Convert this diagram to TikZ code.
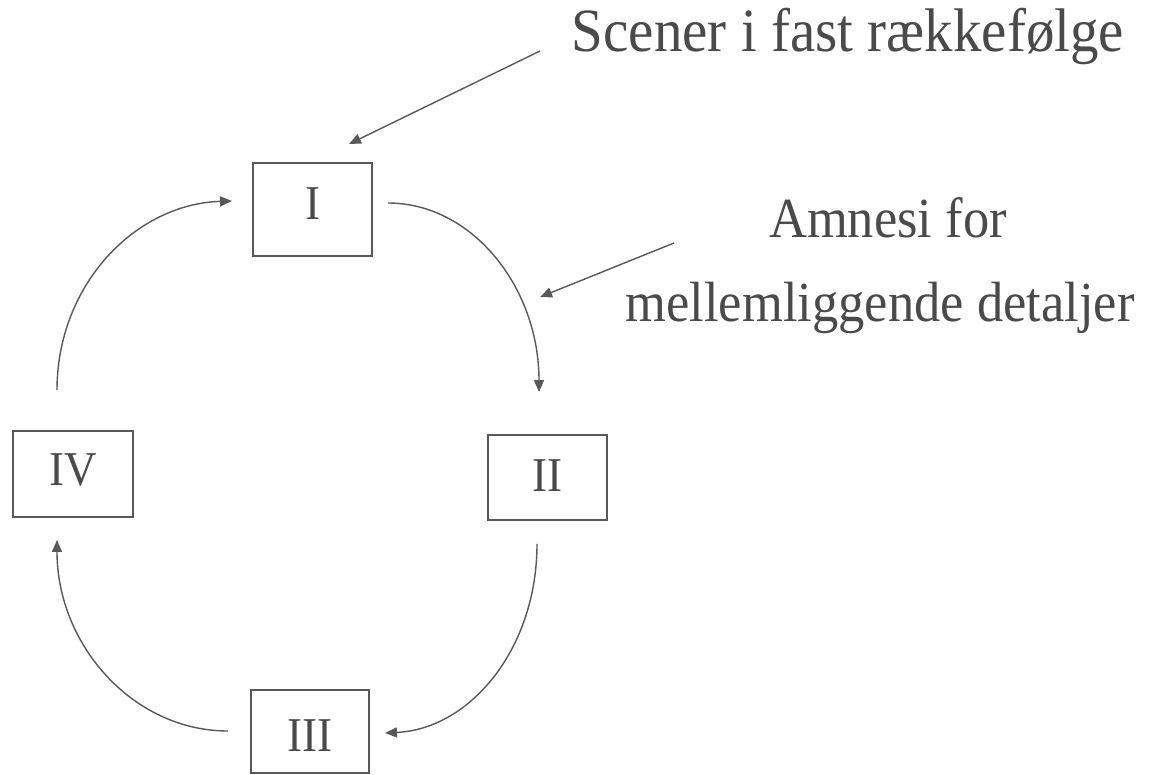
\documentclass[tikz,border=0pt]{standalone}
\usepackage{fontspec}
\setmainfont{Liberation Serif}
\usetikzlibrary{arrows.meta,calc}
\definecolor{ink}{HTML}{4A4A4A}
\definecolor{wire}{HTML}{585858}
% slightly tall serif lettering
\newcommand{\tall}[1]{\scalebox{1}[1.08]{#1}}
% numeral set a little off centre inside its box
\newcommand{\numeral}[2]{\raisebox{#1}[\height][\depth]{\tall{#2}}}
\tikzset{
  scene/.style={draw=wire, line width=1.9pt, rectangle, inner sep=0pt,
                text=ink, font=\fontsize{45}{45}\selectfont},
  flow/.style={draw=wire, line width=1.4pt,
               -{Triangle[length=12pt,width=10pt]}},
  caption/.style={text=ink, inner sep=0pt, anchor=base},
}
\begin{document}
\begin{tikzpicture}[x=1pt,y=-1pt]
\useasboundingbox (0,0) rectangle (1159,775);

% the four scenes
\node[scene, minimum width=119pt, minimum height=93pt] (I)   at (312.5,209.5) {\numeral{6pt}{I}};
\node[scene, minimum width=119pt, minimum height=85pt] (II)  at (547.5,477.5) {\numeral{2pt}{II}};
\node[scene, minimum width=118pt, minimum height=83pt] (III) at (310,731.5)   {\numeral{-4pt}{III}};
\node[scene, minimum width=120pt, minimum height=86pt] (IV)  at (73,474)      {\numeral{4pt}{IV}};

% captions
\node[caption, font=\fontsize{57}{57}\selectfont] (scener) at (848,52)
  {\tall{Scener i fast rækkefølge}};
\node[caption, font=\fontsize{52.5}{52.5}\selectfont] (amnesi) at (888,238)
  {\tall{Amnesi for}};
\node[caption, font=\fontsize{52.5}{52.5}\selectfont] (mellem) at (880,322)
  {\tall{mellemliggende detaljer}};

% the cycle I -> II -> III -> IV -> I
\draw[flow] ([xshift=15pt,yshift=6.5pt]I.east)
  .. controls +(84,0) and +(0,-105) .. ([xshift=-8.5pt,yshift=42pt]II.north);
\draw[flow] ([xshift=-10.5pt,yshift=-23pt]II.south)
  .. controls +(0,105) and +(85,-4) .. ([xshift=15pt,yshift=-1.5pt]III.east);
\draw[flow] ([xshift=-22pt,yshift=0.5pt]III.west)
  .. controls +(-95,0) and +(0,105) .. ([xshift=-16pt,yshift=-22pt]IV.south);
\draw[flow] ([xshift=-16pt,yshift=40pt]IV.north)
  .. controls +(0,-105) and +(-97,3) .. ([xshift=-20pt,yshift=8.5pt]I.west);

% pointers from the captions
\draw[flow] ([xshift=-308pt,yshift=1pt]scener.base) -- ([xshift=36.5pt,yshift=18pt]I.north);
\draw[flow] ([xshift=-206pt,yshift=79pt]mellem.base) -- ([xshift=-7.5pt,yshift=137pt]II.north);
\end{tikzpicture}
\end{document}
